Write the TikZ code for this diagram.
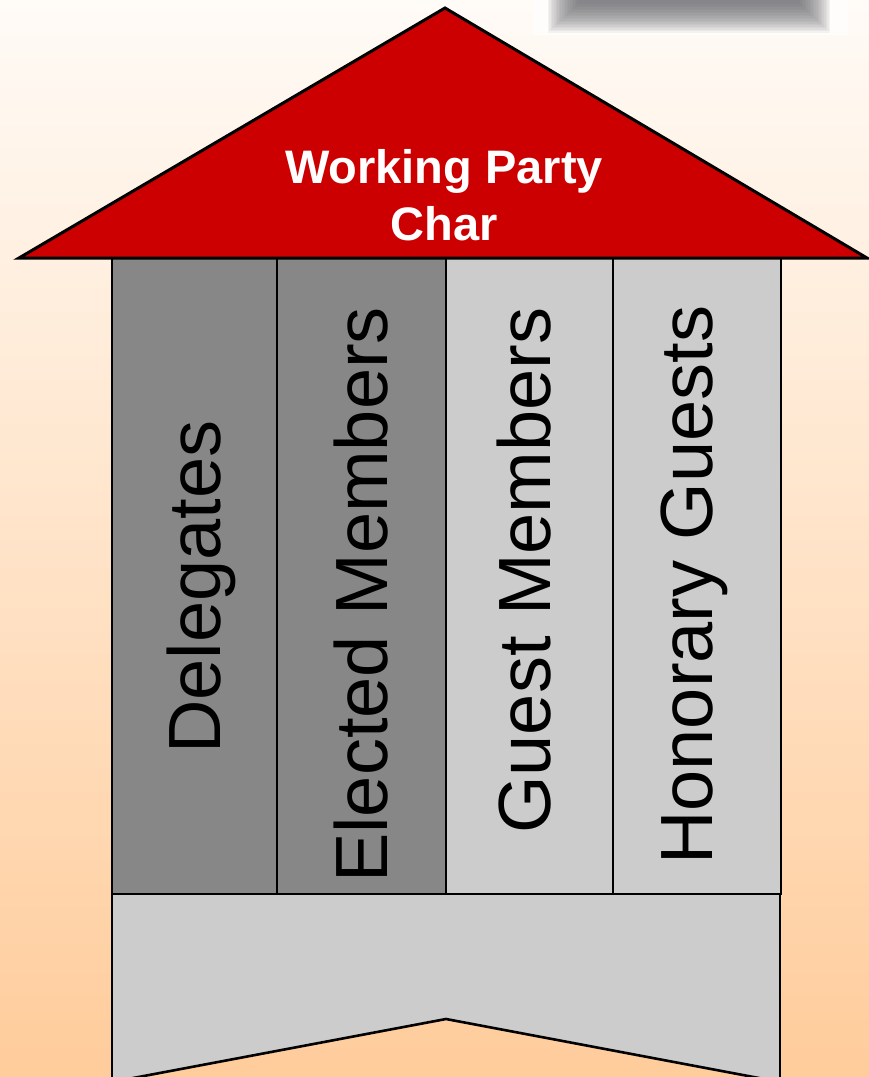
\documentclass[tikz,border=0pt]{standalone}
\usepackage{fontspec}
\setmainfont{Liberation Sans}
\definecolor{bgtop}{RGB}{255,251,247}
\definecolor{bgbot}{RGB}{255,204,155}
\definecolor{roofred}{RGB}{204,0,0}
\definecolor{darkcol}{RGB}{135,135,135}
\definecolor{lightcol}{RGB}{204,204,204}
\definecolor{blob}{RGB}{110,110,116}
\tikzset{
  outline/.style={draw=black, line width=3pt, line join=miter},
  coltext/.style={inner sep=0pt, rotate=90, anchor=base west, font=\fontsize{74}{80}\selectfont},
  titletext/.style={inner sep=0pt, anchor=base, text=white, font=\fontsize{47}{56}\selectfont\bfseries}
}
\begin{document}
\begin{tikzpicture}[x=1pt,y=-1pt]
\useasboundingbox (0,0) rectangle (869,1077);
% background
\shade[top color=bgtop, bottom color=bgbot] (0,0) rectangle (869,1077);
% top-right blurred gray block
\fill[white, opacity=0.6] (533,0) rectangle (848,35);
\foreach \i in {0,...,19} {
  \fill[blob, opacity=0.075] (578-\i*1.6,-5) rectangle (800+\i*1.6,4+\i*1.5);
}
% base
\fill[lightcol] (112,894) -- (780,894) -- (780,1082) -- (446,1019) -- (112,1082) -- cycle;
\draw[outline, line width=2.6pt] (112,894) -- (112,1082);
\draw[outline, line width=2.6pt] (780,894) -- (780,1082);
\draw[outline, line width=2.6pt] (112,1082) -- (446,1019) -- (780,1082);
% columns
\fill[darkcol] (112,258) rectangle (446,894);
\fill[lightcol] (446,258) rectangle (781,894);
\draw[outline, line width=2.6pt] (112,258) rectangle (781,894);
\draw[outline, line width=2.6pt] (277,258) -- (277,894);
\draw[outline, line width=2.6pt] (446,258) -- (446,894);
\draw[outline, line width=2.6pt] (613,258) -- (613,894);
% roof
\filldraw[fill=roofred, outline] (19,258) -- (445,8) -- (867,258) -- cycle;
% texts
\node[titletext] (title1) at (444,183) {Working Party};
\node[titletext] (title2) at (444,240) {Char};
\node[coltext] (deleg) at (220,754) {Delegates};
\node[coltext] (elect) at (387,883) {Elected Members};
\node[coltext] (guest) at (550,834) {Guest Members};
\node[coltext] (honor) at (712,865) {Honorary Guests};
\end{tikzpicture}
\end{document}
